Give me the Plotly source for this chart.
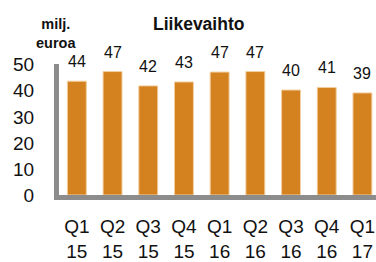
import plotly.graph_objects as go

categories = ["Q1<br>15", "Q2<br>15", "Q3<br>15", "Q4<br>15", "Q1<br>16", "Q2<br>16", "Q3<br>16", "Q4<br>16", "Q1<br>17"]
values = [43.7, 47.4, 41.9, 43.4, 47.2, 47.4, 40.3, 41.3, 39.2]
labels = ["44", "47", "42", "43", "47", "47", "40", "41", "39"]
y_ticks = [0, 10, 20, 30, 40, 50]

FONT = "Liberation Sans, Arial, sans-serif"
fig = go.Figure()
fig.add_trace(go.Bar(
    x=list(range(len(categories))), y=values,
    marker=dict(color="#D4821F", line=dict(color="#F2CFA0", width=1)),
    width=0.53,
))
for i, (v, t) in enumerate(zip(values, labels)):
    fig.add_annotation(x=i, y=v, text=t, showarrow=False, yanchor="bottom",
                       yshift=9, font=dict(size=16, color="#111111", family=FONT))

fig.add_annotation(xref="paper", yref="paper", x=(198-58.5)/317.5, y=1 + (64-21)/141,
                   text="<b>Liikevaihto</b>", showarrow=False, yanchor="middle",
                   font=dict(size=17.5, color="#111111", family=FONT))
fig.add_annotation(xref="paper", yref="paper", x=(33-58.5)/317.5, y=1 + (64-31)/141,
                   text="<b>milj.<br>euroa</b>", showarrow=False, yanchor="middle",
                   font=dict(size=14.5, color="#111111", family=FONT))

fig.update_layout(
    width=376, height=262,
    margin=dict(l=58.5, r=0, t=64, b=57),
    paper_bgcolor="white", plot_bgcolor="white",
    showlegend=False,
    font=dict(family=FONT, color="#111111"),
    xaxis=dict(range=[-0.5, 8.38], tickmode="array",
               tickvals=list(range(len(categories))), ticktext=categories,
               showgrid=False, zeroline=False, showline=True, linecolor="#8C8C8C",
               linewidth=5, ticks="outside", ticklen=10, tickcolor="rgba(0,0,0,0)",
               tickfont=dict(size=19, family=FONT, color="#111111")),
    yaxis=dict(range=[0, 50.3], tickvals=y_ticks, showgrid=False, zeroline=False,
               showline=True, linecolor="#8C8C8C", linewidth=5,
               ticks="outside", ticklen=16, tickcolor="rgba(0,0,0,0)",
               tickfont=dict(size=19, family=FONT, color="#111111")),
)
fig.write_html("out.html", config={"displayModeBar": False},
               post_script="document.body.style.margin='0px';document.body.style.overflow='hidden';")
